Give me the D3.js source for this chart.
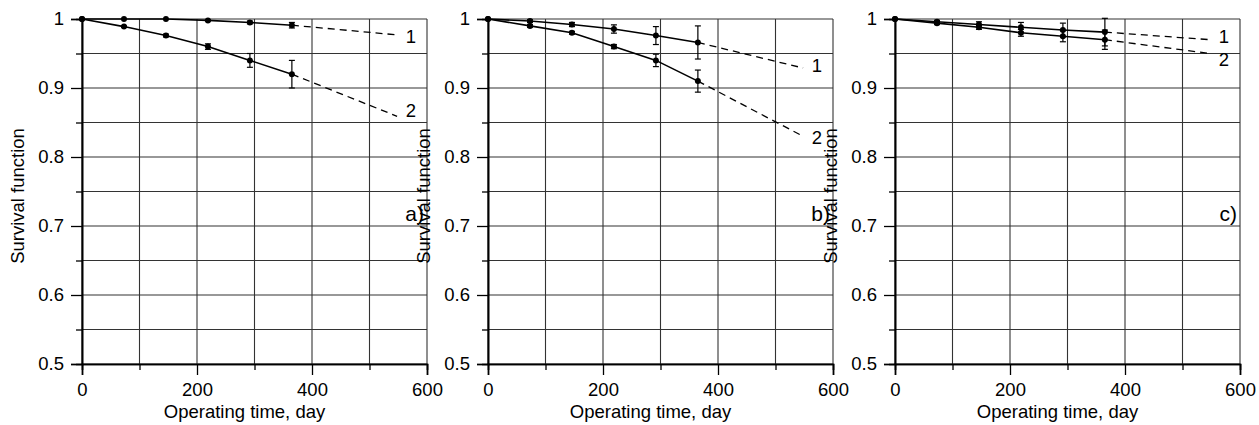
<!DOCTYPE html>
<html><head><meta charset="utf-8">
<script src="https://cdn.jsdelivr.net/npm/d3@7"></script>
<style>
body{margin:0;background:#fff;}
text{font-family:"Liberation Sans",Arial,sans-serif;fill:#000;}
</style></head>
<body><svg id="c" width="1259" height="425"></svg>
<script>
const days = [0, 73, 146, 219, 292, 365];
const extDay = 548;
const xTicks = [0, 200, 400, 600];
const yTicks = [0.5, 0.6, 0.7, 0.8, 0.9, 1];
const yTickLabels = ["0.5", "0.6", "0.7", "0.8", "0.9", "1"];
const panelNames = ["a)", "b)", "c)"];

const a1 = [1, 1, 1, 0.998, 0.995, 0.991];
const a1Err = [0, 0, 0, 0.001, 0.002, 0.004];
const a1Ext = 0.977;
const a2 = [1, 0.989, 0.976, 0.960, 0.940, 0.920];
const a2Err = [0, 0.001, 0.002, 0.004, 0.010, 0.020];
const a2Ext = 0.859;

const b1 = [1, 0.997, 0.992, 0.9855, 0.976, 0.966];
const b1Err = [0, 0.002, 0.003, 0.006, 0.013, 0.024];
const b1Ext = 0.929;
const b2 = [1, 0.990, 0.980, 0.960, 0.940, 0.910];
const b2Err = [0, 0.002, 0.002, 0.003, 0.009, 0.016];
const b2Ext = 0.830;

const c1 = [1, 0.996, 0.992, 0.988, 0.984, 0.981];
const c1Err = [0, 0.002, 0.004, 0.007, 0.010, 0.020];
const c1Ext = 0.970;
const c2 = [1, 0.994, 0.988, 0.980, 0.975, 0.970];
const c2Err = [0, 0.002, 0.003, 0.005, 0.008, 0.014];
const c2Ext = 0.950;

const panels = [
  {name: panelNames[0], left: 82, series: [
    {v: a1, e: a1Err, ext: a1Ext, label: "1", ly: 0.974},
    {v: a2, e: a2Err, ext: a2Ext, label: "2", ly: 0.868}]},
  {name: panelNames[1], left: 488, series: [
    {v: b1, e: b1Err, ext: b1Ext, label: "1", ly: 0.933},
    {v: b2, e: b2Err, ext: b2Ext, label: "2", ly: 0.828}]},
  {name: panelNames[2], left: 895, series: [
    {v: c1, e: c1Err, ext: c1Ext, label: "1", ly: 0.975},
    {v: c2, e: c2Err, ext: c2Ext, label: "2", ly: 0.941}]}
];

const svg = d3.select("#c");
const W = 345, H = 345, plotTop = 19;
const fs = "18.5px";

panels.forEach(p => {
  const g = svg.append("g").attr("transform", `translate(${p.left},${plotTop})`);
  const x = d3.scaleLinear().domain([0, 600]).range([0, W]);
  const y = d3.scaleLinear().domain([0.5, 1]).range([H, 0]);

  // grid
  const gx = d3.range(0, 601, 100), gy = d3.range(0, 11).map(i => 0.5 + i * 0.05);
  g.selectAll(".vg").data(gx).enter().append("line")
    .attr("x1", d => x(d)).attr("x2", d => x(d)).attr("y1", 0).attr("y2", H)
    .attr("stroke", "#333").attr("stroke-width", 1.1);
  g.selectAll(".hg").data(gy).enter().append("line")
    .attr("x1", 0).attr("x2", W).attr("y1", d => y(d)).attr("y2", d => y(d))
    .attr("stroke", "#333").attr("stroke-width", 1.1);

  // axes
  g.append("g").call(d3.axisLeft(y).tickValues(yTicks)
      .tickFormat((d, i) => yTickLabels[i]).tickSize(11).tickPadding(7));
  g.append("g").call(d3.axisLeft(y).tickValues(gy.filter((d, i) => i % 2 === 1))
      .tickFormat("").tickSize(6));
  g.append("g").attr("transform", `translate(0,${H})`)
    .call(d3.axisBottom(x).tickValues(xTicks).tickFormat(d3.format("d")).tickSize(11).tickPadding(8));
  g.append("g").attr("transform", `translate(0,${H})`)
    .call(d3.axisBottom(x).tickValues([100, 300, 500]).tickFormat("").tickSize(6));
  g.selectAll(".domain").attr("stroke", "#000").attr("stroke-width", 1.6);
  g.selectAll(".tick line").attr("stroke", "#000").attr("stroke-width", 1.3);
  g.selectAll(".tick text").style("font-size", fs).attr("fill", "#000");

  g.append("text").attr("x", W / 2 - 10).attr("y", H + 54)
    .attr("text-anchor", "middle").style("font-size", fs).text("Operating time, day");
  g.append("text").attr("transform", `translate(-58,${177}) rotate(-90)`)
    .attr("text-anchor", "middle").style("font-size", fs).text("Survival function");
  g.append("text").attr("x", W - 3).attr("y", 202).attr("text-anchor", "end")
    .style("font-size", "21px").text(p.name);

  const line = d3.line().x(d => x(d[0])).y(d => y(d[1]));
  p.series.forEach(s => {
    const pts = days.map((d, i) => [d, s.v[i]]);
    g.append("path").attr("d", line([pts[pts.length - 1], [extDay, s.ext]]))
      .attr("fill", "none").attr("stroke", "#000").attr("stroke-width", 1.3)
      .attr("stroke-dasharray", "7,5");
    g.append("path").attr("d", line(pts)).attr("fill", "none")
      .attr("stroke", "#000").attr("stroke-width", 1.6);
    days.forEach((d, i) => {
      if (s.e[i] > 0) {
        const cx = x(d), y1 = y(s.v[i] + s.e[i]), y2 = y(s.v[i] - s.e[i]);
        g.append("line").attr("x1", cx).attr("x2", cx).attr("y1", y1).attr("y2", y2)
          .attr("stroke", "#000").attr("stroke-width", 1.2);
        [y1, y2].forEach(yy => g.append("line").attr("x1", cx - 3).attr("x2", cx + 3)
          .attr("y1", yy).attr("y2", yy).attr("stroke", "#000").attr("stroke-width", 1.2));
      }
    });
    g.selectAll(null).data(pts).enter().append("circle")
      .attr("cx", d => x(d[0])).attr("cy", d => y(d[1])).attr("r", 3).attr("fill", "#000");
    g.append("text").attr("x", x(572)).attr("y", y(s.ly))
      .attr("text-anchor", "middle").attr("dy", "0.35em").style("font-size", fs).text(s.label);
  });
});
</script></body></html>
